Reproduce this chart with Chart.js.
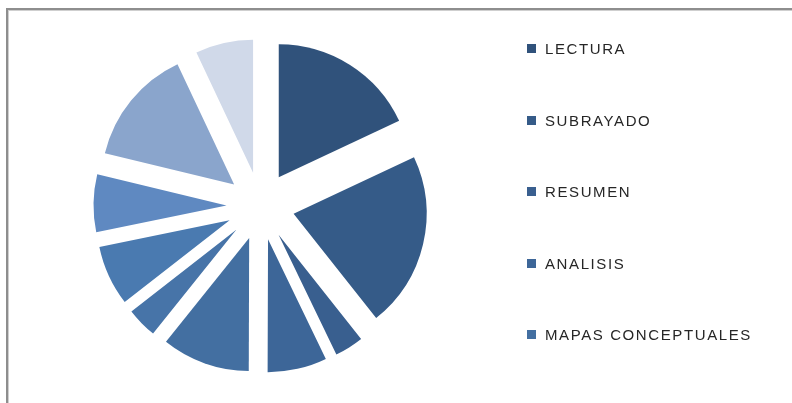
<!DOCTYPE html>
<html>
<head>
<meta charset="utf-8">
<script src="https://cdn.jsdelivr.net/npm/chart.js@4/dist/chart.umd.min.js"></script>
<style>
  html, body { margin: 0; padding: 0; background: #fff; }
  #wrap { position: relative; width: 792px; height: 403px; overflow: hidden; }
  #frame { position: absolute; left: 6px; top: 8px; width: 800px; height: 410px;
           border-left: 2px solid #8e8e8e; border-top: 2px solid #8e8e8e; }
  #frame2 { position: absolute; left: 8px; top: 10px; width: 800px; height: 410px;
            border-left: 1px solid #cfcfcf; border-top: 1px solid #cfcfcf; }
  #pieChart { position: absolute; left: 0; top: 0; }
  #legend { position: absolute; left: 527px; top: 41px; margin: 0; padding: 0; list-style: none;
            font-family: "Liberation Sans", Arial, sans-serif; font-size: 15px; color: #262626;
            letter-spacing: 1.6px; }
  #legend li { height: 16px; line-height: 16px; margin-bottom: 55.5px; white-space: nowrap; }
  #legend span { display: inline-block; width: 9px; height: 9px; margin-right: 9px; vertical-align: 1px; }
</style>
</head>
<body>
<div id="wrap">
  <div id="frame"></div>
  <div id="frame2"></div>
  <canvas id="pieChart" width="792" height="403"></canvas>
  <ul id="legend"></ul>
</div>
<script>
// datos (la leyenda original solo muestra las 5 primeras)
const labels = ['LECTURA', 'SUBRAYADO', 'RESUMEN', 'ANALISIS', 'MAPAS CONCEPTUALES', '', '', '', '', ''];
const values = [18, 21.3, 3.5, 7.2, 10.7, 3.7, 7.3, 7, 14.2, 7];
const colors = ['#30527b', '#355b88', '#395f8f', '#3d6698', '#436fa1', '#4774a8', '#4a7ab0', '#5f89c1', '#8aa5cc', '#d0d9e9'];

// separa cada porcion hacia fuera sin cambiar su tamano (pastel "explotado")
const explodePlugin = {
    id: 'explode',
    afterDatasetUpdate(chart, args) {
        const shift = 34;
        args.meta.data.forEach(arc => {
            const mid = (arc.startAngle + arc.endAngle) / 2;
            arc.x += Math.cos(mid) * shift;
            arc.y += Math.sin(mid) * shift;
        });
    }
};

const pieChart = new Chart(document.getElementById('pieChart'), {
    type: 'pie',
    data: {
        labels: labels,
        datasets: [{
            data: values,
            backgroundColor: colors,
            borderWidth: 0,
            radius: 133
        }]
    },
    options: {
        responsive: false,
        animation: false,
        events: [],
        layout: {
            padding: { left: 0, right: 271, top: 9, bottom: 0 }
        },
        plugins: {
            legend: { display: false },
            tooltip: { enabled: false }
        }
    },
    plugins: [explodePlugin]
});

// leyenda html con los items que genera Chart.js
const legendEl = document.getElementById('legend');
Chart.overrides.pie.plugins.legend.labels.generateLabels(pieChart)
    .filter(item => item.text !== '')
    .forEach(item => {
        const li = document.createElement('li');
        const box = document.createElement('span');
        box.style.background = item.fillStyle;
        li.appendChild(box);
        li.appendChild(document.createTextNode(item.text));
        legendEl.appendChild(li);
    });
</script>
</body>
</html>
